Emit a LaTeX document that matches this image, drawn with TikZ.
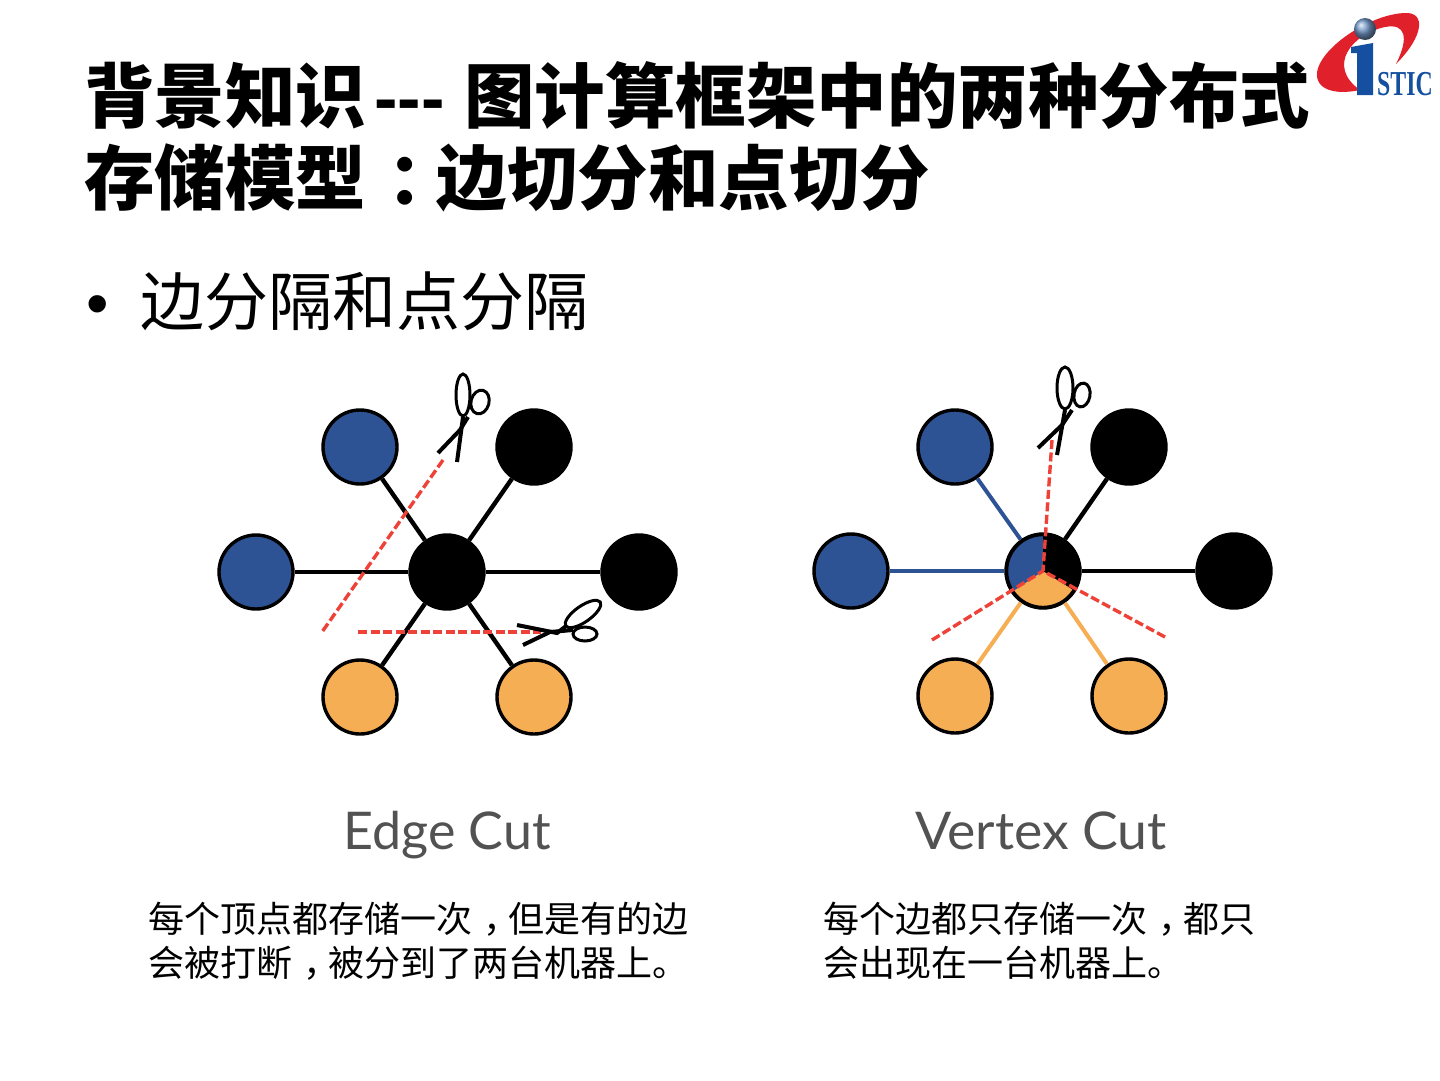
\documentclass[tikz,border=0pt]{standalone}
\usepackage{fontspec}
\setmainfont{Liberation Sans}
\newfontfamily\cjk{Noto Sans CJK SC}
\newfontfamily\lat{Lato}
\newfontfamily\logofont{Liberation Serif}
\newcommand{\cellpunct}[1]{\kern.3em #1\kern-.3em}
\definecolor{gblue}{HTML}{2E5395}
\definecolor{gorange}{HTML}{F6AE55}
\definecolor{cutred}{HTML}{EE4238}
\definecolor{logored}{HTML}{E0202A}
\definecolor{logoblue}{HTML}{14509F}
\tikzset{
  vx/.style={circle,draw=black,line width=3.4pt,minimum size=74pt,inner sep=0pt},
  bluevx/.style={vx,fill=gblue},
  blackvx/.style={vx,fill=black},
  orangevx/.style={vx,fill=gorange},
  link/.style={line width=4.4pt,draw=black},
  bluelink/.style={line width=4pt,draw=gblue},
  orangelink/.style={line width=4pt,draw=gorange},
  cutline/.style={draw=cutred,line width=3.4pt,dash pattern=on 9pt off 3.5pt},
  blade/.style={draw=black,line width=4pt},
  ringline/.style={draw=black,line width=3pt,fill=white},
  titletext/.style={anchor=base west,inner sep=0pt,font=\fontsize{70.5}{80}\selectfont\bfseries},
  bodytext/.style={anchor=base west,inner sep=0pt,font=\fontsize{64}{72}\selectfont},
  captext/.style={anchor=base west,inner sep=0pt,font=\fontsize{36}{42}\selectfont},
  graphlabel/.style={anchor=base,inner sep=0pt,text=black!68,font=\fontsize{52}{60}\selectfont\lat}
}
\begin{document}
\begin{tikzpicture}[x=1pt,y=-1pt]
\useasboundingbox (0,0) rectangle (1440,1080);
% title
\node[titletext] (t1) at (84,122) {\cjk 背景知识};
\node[titletext] (t2) at (374,122) {{-}{-}{-}};
\node[titletext] (t3) at (464,122) {\cjk 图计算框架中的两种分布式};
\node[titletext] (t4) at (84,204) {\cjk 存储模型\cellpunct{：}边切分和点切分};
\node[bodytext] (bul) at (86,325) {•};
\node[bodytext] (body) at (140,325) {\cjk 边分隔和点分隔};
% logo
\fill[logored] (1360,90) .. controls (1332,96) and (1312,88) .. (1318,68)
  .. controls (1326,44) and (1372,14) .. (1405,13)
  .. controls (1426,12) and (1424,36) .. (1396,64)
  .. controls (1409,38) and (1406,23) .. (1385,27)
  .. controls (1352,34) and (1326,66) .. (1360,90) -- cycle;
\shade[ball color=logoblue!60!white] (1365,29) circle (11);
\fill[logoblue] (1351,47) -- (1373,43) -- (1373,95) -- (1357,95) -- (1357,53) -- (1351,53) -- cycle;
\node[anchor=base west,inner sep=0pt,text=logoblue,xscale=.68,font=\fontsize{35}{40}\selectfont\logofont\bfseries] (logotxt) at (1377,95) {STIC};
% left graph
\node[blackvx] (lc) at (447,572) {};
\node[bluevx] (ltl) at (360,447) {};
\node[blackvx] (ltr) at (534,447) {};
\node[bluevx] (ll) at (256,572) {};
\node[blackvx] (lr) at (639,572) {};
\node[orangevx] (lbl) at (360,697) {};
\node[orangevx] (lbr) at (534,697) {};
\foreach \n in {ltl,ltr,ll,lr,lbl,lbr} \draw[link] (lc) -- (\n);
\coordinate (c1a) at (443,460); \coordinate (c1b) at (322,632);
\coordinate (c2a) at (358,632); \coordinate (c2b) at (541,632);
\draw[cutline] (c1a) -- (c1b);
\draw[cutline] (c2a) -- (c2b);
% scissors, edge cut, top
\draw[blade] (457,462) -- (463,417);
\draw[blade] (438,453) -- (460,430) -- (468,417);
\draw[ringline] (463,395) ellipse [x radius=7,y radius=21];
\begin{scope}[shift={(480,402)},rotate=-15]\draw[ringline] (0,0) ellipse [x radius=9,y radius=12];\end{scope}
% scissors, edge cut, bottom
\draw[blade] (517,625) -- (557,633) -- (570,623);
\draw[blade] (523,645) -- (550,632) -- (573,630);
\begin{scope}[shift={(583,614)},rotate=35]\draw[ringline] (0,0) ellipse [x radius=21,y radius=8];\end{scope}
\draw[ringline] (585,634) ellipse [x radius=12,y radius=7];
% right graph
\node[orangevx] (rc) at (1043,571) {};
\node[bluevx] (rtl) at (955,447) {};
\node[blackvx] (rtr) at (1129,447) {};
\node[bluevx] (rl) at (851,571) {};
\node[blackvx] (rr) at (1234,571) {};
\node[orangevx] (rbl) at (955,696) {};
\node[orangevx] (rbr) at (1129,696) {};
\fill[gblue] (rc.center) -- (1043,534) arc[start angle=-90,end angle=-214,radius=37] -- cycle;
\fill[black] (rc.center) -- (1043,534) arc[start angle=-90,end angle=32,radius=37] -- cycle;
\draw[black,line width=3.4pt] (rc) circle (36.5);
\draw[bluelink] (rc) -- (rtl);
\draw[bluelink] (rc) -- (rl);
\draw[link] (rc) -- (rtr);
\draw[link] (rc) -- (rr);
\draw[orangelink] (rc) -- (rbl);
\draw[orangelink] (rc) -- (rbr);
\coordinate (d1) at (1052,440); \coordinate (d2) at (932,640); \coordinate (d3) at (1165,637);
\draw[cutline] (d1) -- (rc.center);
\draw[cutline] (d2) -- (rc.center);
\draw[cutline] (d3) -- (rc.center);
% scissors, vertex cut
\draw[blade] (1057,455) -- (1065,410);
\draw[blade] (1038,448) -- (1062,425) -- (1072,410);
\draw[ringline] (1065,388) ellipse [x radius=8,y radius=21];
\begin{scope}[shift={(1082,395)},rotate=-10]\draw[ringline] (0,0) ellipse [x radius=8,y radius=12];\end{scope}
% labels
\node[graphlabel] (lab1) at (447,849) {Edge Cut};
\node[graphlabel,xscale=1.03] (lab2) at (1041,849) {Vertex Cut};
\node[captext] (cap1) at (148,932) {\cjk 每个顶点都存储一次\cellpunct{，}但是有的边};
\node[captext] (cap2) at (148,976) {\cjk 会被打断\cellpunct{，}被分到了两台机器上。};
\node[captext] (cap3) at (823,932) {\cjk 每个边都只存储一次\cellpunct{，}都只};
\node[captext] (cap4) at (823,976) {\cjk 会出现在一台机器上。};
\end{tikzpicture}
\end{document}
